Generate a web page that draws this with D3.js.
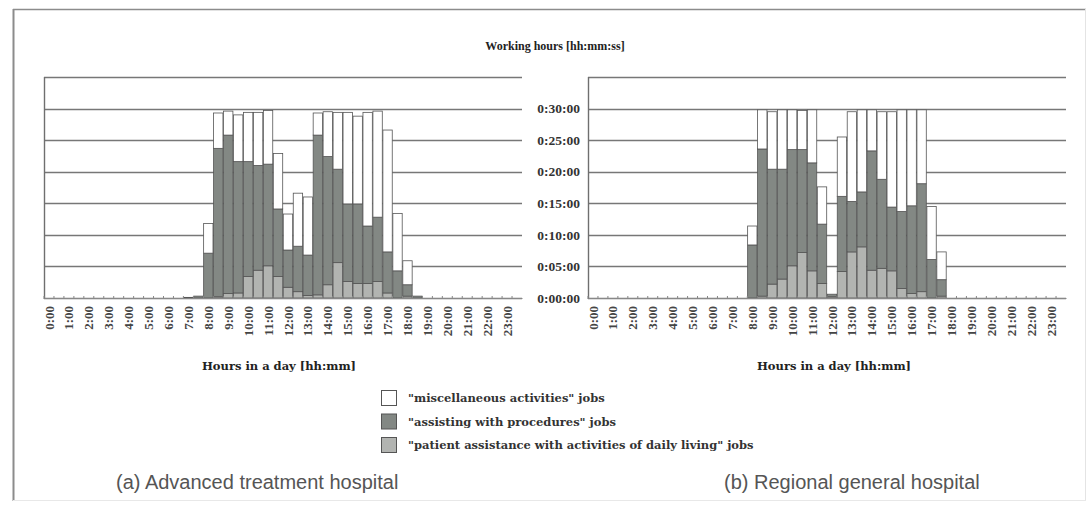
<!DOCTYPE html>
<html>
<head>
<meta charset="utf-8">
<script src="https://cdn.jsdelivr.net/npm/d3@7"></script>
<style>
  html, body { margin: 0; padding: 0; background: #fff; }
  svg { display: block; }
</style>
</head>
<body>
<svg id="chart" width="1091" height="506"></svg>
<script>
// Half-hour slots of the day: "0:00", "0:30", ... "23:30"
const slots = d3.range(48).map(i => `${Math.floor(i / 2)}:${i % 2 ? "30" : "00"}`);
// Hour labels shown on the x axis
const hourLabels = d3.range(24).map(h => `${h}:00`);
// Working-time ticks in minutes (0:00:00 … 0:30:00), gridlines up to 35
const yTickMinutes = [0, 5, 10, 15, 20, 25, 30];
const yGridMinutes = [0, 5, 10, 15, 20, 25, 30, 35];

const seriesNames = [
  "\"patient assistance with activities of daily living\" jobs",
  "\"assisting with procedures\" jobs",
  "\"miscellaneous activities\" jobs"
];

// (a) Advanced treatment hospital, minutes per half-hour slot (slots 0..47)
const advPatient = [0,0,0,0,0,0,0,0,0,0,0,0,0,0, 0,0,0,0.2,0.7,0.8,3.4,4.4,5.1,3.4,1.7,1.0,0.4,0.5,2.1,5.6,2.6,2.3,2.3,2.6,0.8,0,0.3,0, 0,0,0,0,0,0,0,0,0,0];
const advAssist  = [0,0,0,0,0,0,0,0,0,0,0,0,0,0, 0.1,0.3,7.1,23.5,25.1,20.8,18.2,16.6,16.1,10.7,5.9,7.2,6.4,25.3,20.3,14.8,12.3,12.6,9.1,10.2,6.5,4.3,1.8,0.3, 0,0,0,0,0,0,0,0,0,0];
const advMisc    = [0,0,0,0,0,0,0,0,0,0,0,0,0,0, 0,0,4.7,5.6,3.8,7.4,7.8,8.4,8.5,8.8,5.7,8.4,9.2,3.5,7.1,9.0,14.5,13.9,18.0,16.8,19.3,9.1,3.8,0, 0,0,0,0,0,0,0,0,0,0];

// (b) Regional general hospital, minutes per half-hour slot (slots 0..47)
const regPatient = [0,0,0,0,0,0,0,0,0,0,0,0,0,0,0,0, 0,0.3,2.2,3.0,5.1,7.2,4.3,2.3,0.2,4.2,7.3,8.1,4.4,4.7,4.3,1.5,0.7,1.0,0,0.3, 0,0,0,0,0,0,0,0,0,0,0,0];
const regAssist  = [0,0,0,0,0,0,0,0,0,0,0,0,0,0,0,0, 8.4,23.3,18.2,17.4,18.4,16.3,17.1,9.4,0.4,11.9,8.0,8.7,18.9,14.1,10.1,12.2,13.9,17.1,6.1,2.6, 0,0,0,0,0,0,0,0,0,0,0,0];
const regMisc    = [0,0,0,0,0,0,0,0,0,0,0,0,0,0,0,0, 3.0,6.2,9.1,9.4,6.3,6.2,8.4,5.9,0,9.4,14.2,13.0,6.5,10.7,15.1,16.1,15.2,11.7,8.4,4.4, 0,0,0,0,0,0,0,0,0,0,0,0];

const fills = ["#b2b4b1", "#838884", "#ffffff"];
const serif = "'Liberation Serif', 'DejaVu Serif', serif";
const wideSerif = "'DejaVu Serif', 'Liberation Serif', serif";
const sans = "'Liberation Sans', Arial, sans-serif";

const svg = d3.select("#chart");

// outer frame
svg.append("line").attr("x1", 13).attr("x2", 1086).attr("y1", 9.5).attr("y2", 9.5)
  .attr("stroke", "#8c8c8c").attr("stroke-width", 1.5);
svg.append("line").attr("x1", 13.5).attr("x2", 13.5).attr("y1", 9).attr("y2", 501)
  .attr("stroke", "#8c8c8c").attr("stroke-width", 2);
svg.append("line").attr("x1", 1085.5).attr("x2", 1085.5).attr("y1", 9).attr("y2", 501)
  .attr("stroke", "#e4e4e4").attr("stroke-width", 1);
svg.append("line").attr("x1", 13).attr("x2", 1086).attr("y1", 500.5).attr("y2", 500.5)
  .attr("stroke", "#e8e8e8").attr("stroke-width", 1);

const y = d3.scaleLinear().domain([0, 35]).range([298, 77]);

function drawPanel(x0, x1, titleX, patient, assist, misc) {
  const g = svg.append("g");
  const x = d3.scaleBand().domain(slots).range([x0, x1]).paddingInner(0.06).paddingOuter(0.03);

  // horizontal gridlines
  g.selectAll("line.grid").data(yGridMinutes).join("line")
    .attr("class", "grid")
    .attr("x1", x0).attr("x2", x1)
    .attr("y1", d => Math.round(y(d)) + 0.5).attr("y2", d => Math.round(y(d)) + 0.5)
    .attr("stroke", "#777").attr("stroke-width", 1.5);

  // vertical value axis line
  g.append("line").attr("x1", x0 + 0.5).attr("x2", x0 + 0.5)
    .attr("y1", y(35)).attr("y2", y(0) + 1)
    .attr("stroke", "#6f6f6f").attr("stroke-width", 1.4);

  // stacked bars
  const rows = slots.map((s, i) => ({ slot: s, p: patient[i], a: assist[i], m: misc[i] }));
  const stacked = d3.stack().keys(["p", "a", "m"])(rows);
  stacked.forEach((layer, k) => {
    g.append("g").selectAll("rect")
      .data(layer.filter(d => d[1] - d[0] > 0))
      .join("rect")
      .attr("x", d => x(d.data.slot))
      .attr("width", x.bandwidth())
      .attr("y", d => y(d[1]))
      .attr("height", d => y(d[0]) - y(d[1]))
      .attr("fill", fills[k])
      .attr("stroke", "#555")
      .attr("stroke-width", 0.8);
  });

  // category axis with small tick marks at each slot boundary
  g.selectAll("line.minor").data(slots).join("line")
    .attr("class", "minor")
    .attr("x1", d => x(d) - x.step() * x.paddingInner() / 2)
    .attr("x2", d => x(d) - x.step() * x.paddingInner() / 2)
    .attr("y1", y(0) - 2).attr("y2", y(0) + 1)
    .attr("stroke", "#888").attr("stroke-width", 1);

  const axis = d3.axisBottom(x)
    .tickValues(hourLabels)
    .tickSize(0)
    .tickPadding(0);
  const ax = g.append("g").attr("transform", `translate(0,${y(0)})`).call(axis);
  ax.select(".domain").attr("stroke", "#888").attr("stroke-width", 1);
  ax.selectAll("text")
    .attr("transform", "rotate(-90)")
    .attr("x", -8).attr("y", 0).attr("dy", "0.35em")
    .attr("text-anchor", "end")
    .attr("font-family", serif).attr("font-size", 13).attr("font-weight", "bold")
    .attr("fill", "#444");

  // x-axis title
  g.append("text")
    .attr("x", titleX).attr("y", 370)
    .attr("text-anchor", "middle")
    .attr("font-family", wideSerif).attr("font-size", 11.5).attr("font-weight", "bold")
    .attr("fill", "#222")
    .text("Hours in a day [hh:mm]");
}

drawPanel(44, 522, 279, advPatient, advAssist, advMisc);
drawPanel(588, 1066, 834, regPatient, regAssist, regMisc);

// shared value labels between the panels
svg.append("g").selectAll("text").data(yTickMinutes).join("text")
  .attr("x", 580).attr("y", d => y(d)).attr("dy", "0.35em")
  .attr("text-anchor", "end")
  .attr("font-family", serif).attr("font-size", 13.5).attr("font-weight", "bold")
  .attr("fill", "#333")
  .text(d => `0:${String(d).padStart(2, "0")}:00`);

svg.append("text")
  .attr("x", 555).attr("y", 50)
  .attr("text-anchor", "middle")
  .attr("font-family", serif).attr("font-size", 12).attr("font-weight", "bold")
  .attr("fill", "#222")
  .text("Working hours [hh:mm:ss]");

// legend (miscellaneous on top)
const legendOrder = [2, 1, 0];
const lg = svg.append("g");
legendOrder.forEach((k, row) => {
  const cy = 398 + row * 23.5;
  lg.append("rect")
    .attr("x", 381.5).attr("y", cy - 7.5).attr("width", 15).attr("height", 15)
    .attr("fill", fills[k]).attr("stroke", "#555").attr("stroke-width", 1);
  lg.append("text")
    .attr("x", 408).attr("y", cy).attr("dy", "0.35em")
    .attr("font-family", wideSerif).attr("font-size", 11.5).attr("font-weight", "bold")
    .attr("fill", "#333")
    .text(seriesNames[k]);
});

// panel captions
svg.append("text").attr("x", 116).attr("y", 489)
  .attr("font-family", sans).attr("font-size", 20).attr("fill", "#555")
  .text("(a) Advanced treatment hospital");
svg.append("text").attr("x", 724).attr("y", 489)
  .attr("font-family", sans).attr("font-size", 20).attr("fill", "#555")
  .text("(b) Regional general hospital");
</script>
</body>
</html>
